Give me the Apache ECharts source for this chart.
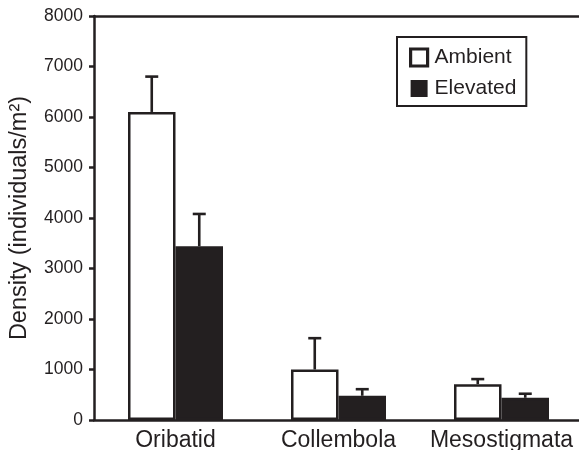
<!DOCTYPE html>
<html>
<head>
<meta charset="utf-8">
<script src="https://cdn.jsdelivr.net/npm/echarts@6/dist/echarts.min.js"></script>
<style>
  html, body { margin: 0; padding: 0; background: #fff; }
  #chart { width: 579px; height: 450px; }
</style>
</head>
<body>
<div id="chart"></div>
<script>
// Soil microarthropod densities under ambient and elevated CO2
const categories = ['Oribatid', 'Collembola', 'Mesostigmata'];
const ambient = [6100, 1000, 710];
const elevated = [3440, 480, 440];
// standard errors (upper whisker only)
const ambientErr = [700, 620, 100];
const elevatedErr = [640, 130, 80];
const yTicks = [0, 1000, 2000, 3000, 4000, 5000, 6000, 7000, 8000];

const INK = '#231f20';
const FONT = '"Liberation Sans", Arial, Helvetica, sans-serif';
const BAR_W = 47.5;

function errorSeries(name, values, errs, side) {
  return {
    type: 'custom',
    name: name + ' SE',
    z: 5,
    data: values.map((v, i) => [i, v, v + errs[i]]),
    renderItem: function (params, api) {
      const base = api.coord([api.value(0), api.value(1)]);
      const top = api.coord([api.value(0), api.value(2)]);
      const x = base[0] + side * BAR_W / 2;
      const cap = 6.5;
      const style = { stroke: INK, lineWidth: 2.6, fill: null };
      return {
        type: 'group',
        children: [
          { type: 'line', shape: { x1: x, y1: base[1], x2: x, y2: top[1] }, style: style },
          { type: 'line', shape: { x1: x - cap, y1: top[1], x2: x + cap, y2: top[1] }, style: style }
        ]
      };
    }
  };
}

const chart = echarts.init(document.getElementById('chart'), null, { renderer: 'canvas' });
chart.setOption({
  animation: false,
  backgroundColor: '#fff',
  textStyle: { fontFamily: FONT, color: INK },
  grid: { left: 94, top: 16, bottom: 30, right: -4, outerBoundsMode: 'none', containLabel: false },
  legend: {
    orient: 'vertical',
    left: 397, top: 37,
    padding: [10, 10, 7, 12],
    borderColor: INK, borderWidth: 2,
    itemWidth: 17, itemHeight: 17, itemGap: 10,
    icon: 'rect',
    textStyle: { fontFamily: FONT, fontSize: 21, color: INK, padding: [0, 0, 0, 2] },
    data: [
      { name: 'Ambient', itemStyle: { color: '#fff', borderColor: INK, borderWidth: 3.2 } },
      { name: 'Elevated', itemStyle: { color: INK, borderColor: INK, borderWidth: 0 } }
    ]
  },
  xAxis: [
    {
      type: 'category',
      data: categories,
      axisLine: { lineStyle: { color: INK, width: 2.5 } },
      axisTick: { show: false },
      axisLabel: { fontFamily: FONT, fontSize: 23, color: INK, margin: 9, interval: 0 }
    },
    {
      // frame line along the top of the plot
      type: 'category',
      position: 'top',
      data: categories,
      axisLine: { show: true, lineStyle: { color: INK, width: 2.5 } },
      axisTick: { show: false },
      axisLabel: { show: false }
    }
  ],
  yAxis: {
    type: 'value',
    min: 0, max: 8000, interval: 1000,
    name: 'Density (individuals/m²)',
    nameLocation: 'middle',
    nameGap: 62,
    nameTextStyle: { fontFamily: FONT, fontSize: 23.5, color: INK },
    axisLine: { show: true, lineStyle: { color: INK, width: 2.5 } },
    axisTick: { show: true, inside: false, length: 5, lineStyle: { color: INK, width: 2.5 } },
    axisLabel: {
      fontFamily: FONT, fontSize: 17.5, color: INK, margin: 11,
      formatter: v => (yTicks.indexOf(v) >= 0 ? String(v) : '')
    },
    splitLine: { show: false }
  },
  series: [
    {
      name: 'Ambient', type: 'bar', data: ambient,
      barWidth: BAR_W, barGap: '0%',
      itemStyle: { color: '#fff', borderColor: INK, borderWidth: 2.5 }
    },
    {
      name: 'Elevated', type: 'bar', data: elevated,
      barWidth: BAR_W, barGap: '0%',
      itemStyle: { color: INK, borderColor: INK, borderWidth: 2.5 }
    },
    errorSeries('Ambient', ambient, ambientErr, -1),
    errorSeries('Elevated', elevated, elevatedErr, 1)
  ]
});
</script>
</body>
</html>
